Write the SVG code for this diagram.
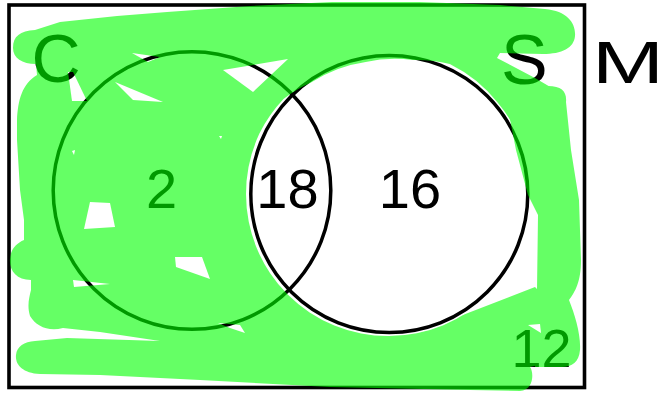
<svg xmlns="http://www.w3.org/2000/svg" width="664" height="394" viewBox="0 0 664 394">
<style>
.lbl{font-family:"Liberation Sans",Arial,sans-serif;fill:#000}
.ring{fill:none;stroke:#000;stroke-width:3.5}
.frame{fill:none;stroke:#000;stroke-width:3.6}
.scrib{fill:#00ff00}
</style>
<defs>
<mask id="holes" maskUnits="userSpaceOnUse" x="0" y="0" width="664" height="394">
<rect width="664" height="394" fill="#fff"/>
<g fill="#000">
<polygon points="132,53 160,57 148,62"/>
<polygon points="68,72 73,72 87,101 72,101"/>
<polygon points="115,82 163,102 133,100"/>
<polygon points="223,70 288,59 253,92"/>
<polygon points="90,202 110,203 115,227 84,229"/>
<polygon points="175,257 202,257 210,279 176,267"/>
<polygon points="73,280 110,284 74,287"/>
<polygon points="218,323 240,325 245,333 230,328"/>
<polygon points="72,151 75,150 74,155"/>
<polygon points="219,136 222,136 221,139"/>
<polygon points="528,325 540,324 541,333"/>
</g>
</mask>
<mask id="scut" maskUnits="userSpaceOnUse" x="0" y="0" width="664" height="394">
<rect width="664" height="394" fill="#fff"/>
<path fill="#000" d="M 246,194 A 143 143 0 0 1 259.4,133.5 A 142 142 0 0 1 283.5,99 A 138 138 0 0 1 311,82.6 A 135 135 0 0 1 365.7,62 A 135 135 0 0 1 412.7,60.1 A 139 139 0 0 1 449.8,64 A 142 142 0 0 1 497.8,102.7 A 142 142 0 0 1 531,194 A 142 142 0 0 1 389,336 A 142 142 0 0 1 246,194 Z"/>
</mask>
</defs>
<rect class="frame" x="9" y="5" width="575.5" height="382.5"/>
<g id="set-C">
<circle class="ring" cx="192" cy="190.5" r="138.8"/>
<text class="lbl" x="31.5" y="82" font-size="68">C</text>
<text class="lbl" x="161.5" y="208" font-size="56" text-anchor="middle">2</text>
</g>
<g id="set-S">
<circle class="ring" cx="389.3" cy="194" r="138.5"/>
<text class="lbl" x="501" y="84" font-size="70">S</text>
<text class="lbl" x="410" y="208" font-size="56" text-anchor="middle">16</text>
</g>
<g id="intersection">
<text class="lbl" x="287.5" y="208" font-size="56" text-anchor="middle">18</text>
</g>
<g id="outside">
<text class="lbl" x="541.5" y="367" font-size="54" text-anchor="middle">12</text>
</g>
<g id="note">
<text class="lbl" x="592" y="83" font-size="60" textLength="72" lengthAdjust="spacingAndGlyphs">M</text>
</g>
<g id="scribble" opacity="0.6" mask="url(#holes)">
<path class="scrib" mask="url(#scut)" d="M 13,48 C 13,36 20,31 35,30 L 60,22 L 117,16 L 167,12 L 250,6 L 332,2 L 420,2 L 500,5 L 545,9 C 568,11 576,24 575,36 C 574,48 562,54 543,54 L 500,53 L 497,58 L 535,78 L 552,88 L 525,105 L 470,180 L 455,318 L 535,287 L 548,300 L 552,362 L 530,367 C 534,372 534,390 520,391 L 470,390 L 330,387 L 200,380 L 100,375 L 40,374 C 22,373 15,364 16,355 C 17,346 24,342 35,341 L 67,338 L 160,341 L 100,332 L 63,328 C 48,332 36,326 30,316 C 27,306 29,298 31,290 L 31,280 C 16,280 9,270 10,259 C 11,248 17,243 24,240 L 24,220 L 20,190 L 17,140 L 17,120 C 18,100 22,84 37,75 L 36,64 C 22,64 13,58 13,48 Z"/>
<path class="scrib" d="M 507,104 C 510,92 530,86 548,86 C 562,86 567,92 566,102 L 571,150 L 579,200 L 581,260 C 581,282 575,292 569,300 C 575,315 581,335 580,350 C 579,362 572,367 562,367 L 535,367 L 537,290 L 538,215 L 528,195 L 516,150 Z"/>
</g>
</svg>
